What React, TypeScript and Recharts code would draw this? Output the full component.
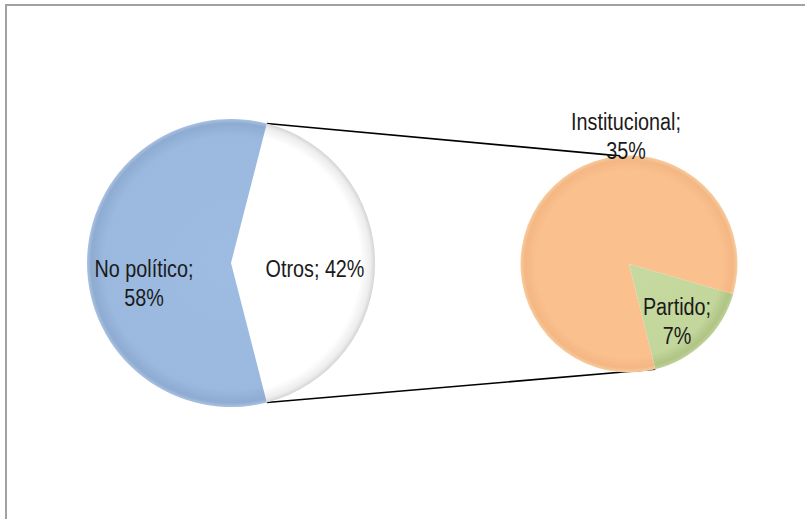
import React from 'react';
import { PieChart, Pie, Cell } from 'recharts';

// ---- Data ----
const mainCategories = ['Otros', 'No político'];
const mainValues = [42, 58];
const subCategories = ['Partido', 'Institucional'];
const subValues = [7, 35];

const mainData = mainCategories.map((name, i) => ({ name, value: mainValues[i] }));
const subData = subCategories.map((name, i) => ({ name, value: subValues[i] }));

// ---- Geometry / styling ----
const W = 805;
const H = 519;
const MAIN = { cx: 231, cy: 263, r: 144 };
const SUB = { cx: 629, cy: 264, r: 108.5 };
const mainTotal = mainValues.reduce((a, b) => a + b, 0);
const otherSweep = (mainValues[0] / mainTotal) * 360;
const mainStart = otherSweep / 2;
const subTotal = subValues.reduce((a, b) => a + b, 0);
const subStart = -16;
const partidoSweep = (subValues[0] / subTotal) * 360;

const FONT = "'Liberation Sans', Arial, sans-serif";
const FONT_SIZE = 23;
const NARROW = 0.86;
const LINE_H = 29;

const mainFills = ['url(#gWhite)', 'url(#gBlue)'];
const subFills = ['url(#gGreen)', 'url(#gOrange)'];

// label layout: offset from pie centre to first baseline, and whether to wrap
const LABEL_LAYOUT: Record<string, { dx: number; dy: number; wrap: boolean }> = {
  'Otros': { dx: 84, dy: 14, wrap: false },
  'No político': { dx: -87, dy: 14, wrap: true },
  'Partido': { dx: 48, dy: 51, wrap: true },
  'Institucional': { dx: -3, dy: -134, wrap: true },
};

const renderLabel = (props: any) => {
  const { cx, cy, name, value } = props;
  const lay = LABEL_LAYOUT[name];
  if (!lay) return null;
  const x = cx + lay.dx;
  const y = cy + lay.dy;
  const lines = lay.wrap ? [`${name};`, `${value}%`] : [`${name}; ${value}%`];
  return (
    <text
      x={0}
      y={0}
      transform={`translate(${x},${y}) scale(${NARROW},1)`}
      textAnchor="middle"
      fill="#1a1a1a"
      fontFamily={FONT}
      fontSize={FONT_SIZE}
    >
      {lines.map((l, i) => (
        <tspan key={i} x={0} dy={i === 0 ? 0 : LINE_H}>
          {l}
        </tspan>
      ))}
    </text>
  );
};

const pt = (c: { cx: number; cy: number; r: number }, deg: number) => {
  const a = (deg * Math.PI) / 180;
  return { x: c.cx + c.r * Math.cos(a), y: c.cy - c.r * Math.sin(a) };
};

export default function App() {
  const p1 = pt(MAIN, mainStart);
  const p2 = pt(MAIN, -mainStart);
  const q1 = pt(SUB, 95);
  const q2 = pt(SUB, subStart - partidoSweep);
  return (
    <div style={{ position: 'absolute', left: 0, top: 0, width: W, height: H, background: '#fff', overflow: 'hidden' }}>
      <div
        style={{
          position: 'absolute',
          left: 5,
          top: 4,
          width: W,
          height: H,
          borderLeft: '2px solid #a2a2a2',
          borderTop: '2px solid #a2a2a2',
        }}
      />
      <svg width={W} height={H} style={{ position: 'absolute', left: 0, top: 0 }}>
        <line x1={p1.x} y1={p1.y} x2={q1.x} y2={q1.y} stroke="#000" strokeWidth={1.6} />
        <line x1={p2.x} y1={p2.y} x2={q2.x} y2={q2.y} stroke="#000" strokeWidth={1.6} />
      </svg>
      <div style={{ position: 'absolute', left: 0, top: 0 }}>
        <PieChart width={W} height={H} margin={{ top: 0, right: 0, bottom: 0, left: 0 }}>
          <defs>
            <radialGradient id="gBlue" gradientUnits="userSpaceOnUse" cx={MAIN.cx} cy={MAIN.cy} r={MAIN.r}>
              <stop offset="0%" stopColor="#9EBCE1" />
              <stop offset="88%" stopColor="#9BB9DF" />
              <stop offset="97%" stopColor="#8EABD2" />
              <stop offset="100%" stopColor="#A9C2E0" />
            </radialGradient>
            <radialGradient id="gWhite" gradientUnits="userSpaceOnUse" cx={MAIN.cx} cy={MAIN.cy} r={MAIN.r}>
              <stop offset="0%" stopColor="#FFFFFF" />
              <stop offset="90%" stopColor="#FFFFFF" />
              <stop offset="97%" stopColor="#EDEDED" />
              <stop offset="100%" stopColor="#D4D4D4" />
            </radialGradient>
            <radialGradient id="gOrange" gradientUnits="userSpaceOnUse" cx={SUB.cx} cy={SUB.cy} r={SUB.r}>
              <stop offset="0%" stopColor="#FAC18F" />
              <stop offset="86%" stopColor="#FAC08E" />
              <stop offset="96%" stopColor="#F4B784" />
              <stop offset="100%" stopColor="#F6CDA0" />
            </radialGradient>
            <radialGradient id="gGreen" gradientUnits="userSpaceOnUse" cx={SUB.cx} cy={SUB.cy} r={SUB.r}>
              <stop offset="0%" stopColor="#C6D9A0" />
              <stop offset="86%" stopColor="#C3D69B" />
              <stop offset="96%" stopColor="#AFC485" />
              <stop offset="100%" stopColor="#BFD198" />
            </radialGradient>
          </defs>
          <Pie
            data={mainData}
            dataKey="value"
            nameKey="name"
            cx={MAIN.cx}
            cy={MAIN.cy}
            innerRadius={0}
            outerRadius={MAIN.r}
            startAngle={mainStart}
            endAngle={mainStart - 360}
            stroke="none"
            label={renderLabel}
            labelLine={false}
            isAnimationActive={false}
          >
            {mainData.map((d, i) => (
              <Cell key={d.name} fill={mainFills[i]} />
            ))}
          </Pie>
          <Pie
            data={subData}
            dataKey="value"
            nameKey="name"
            cx={SUB.cx}
            cy={SUB.cy}
            innerRadius={0}
            outerRadius={SUB.r}
            startAngle={subStart}
            endAngle={subStart - 360}
            stroke="none"
            label={renderLabel}
            labelLine={false}
            isAnimationActive={false}
          >
            {subData.map((d, i) => (
              <Cell key={d.name} fill={subFills[i]} />
            ))}
          </Pie>
        </PieChart>
      </div>
    </div>
  );
}
